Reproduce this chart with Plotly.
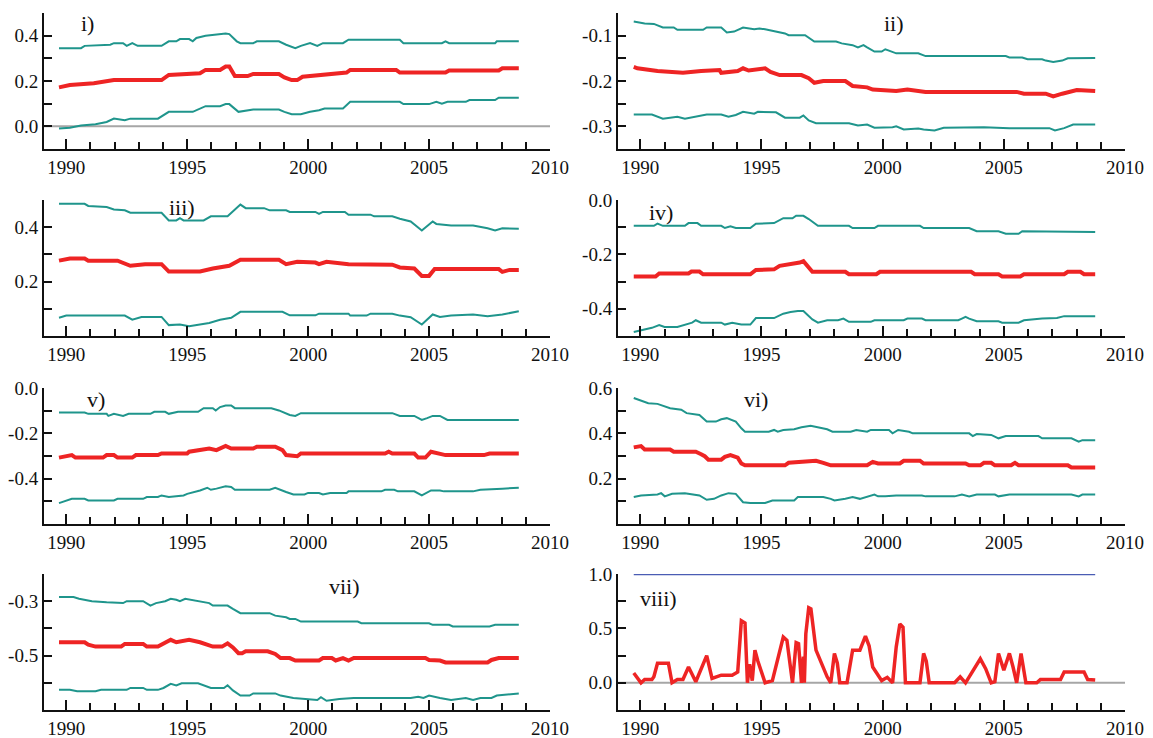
import plotly.graph_objects as go

# ---------------- data (year, value) ----------------
I_UP = [(1989.70, 0.345), (1990.61, 0.345), (1990.76, 0.355), (1991.82, 0.36), (1991.97, 0.367), (1992.35, 0.367),
        (1992.50, 0.355), (1992.73, 0.367), (1992.95, 0.355), (1993.94, 0.355), (1994.24, 0.375), (1994.55, 0.375),
        (1994.70, 0.385), (1995.08, 0.385), (1995.23, 0.375), (1995.38, 0.39), (1995.76, 0.40), (1996.21, 0.407),
        (1996.59, 0.41), (1996.74, 0.407), (1997.05, 0.375), (1997.20, 0.367), (1997.73, 0.367), (1997.88, 0.375),
        (1998.79, 0.375), (1999.09, 0.36), (1999.47, 0.345), (1999.70, 0.355), (2000.08, 0.367), (2000.38, 0.355),
        (2000.61, 0.367), (2001.44, 0.367), (2001.67, 0.382), (2003.79, 0.382), (2003.94, 0.367), (2005.53, 0.367),
        (2005.68, 0.375), (2005.83, 0.367), (2007.73, 0.367), (2007.80, 0.375), (2008.71, 0.375)]
I_MID = [(1989.70, 0.172), (1990.15, 0.182), (1991.14, 0.19), (1991.52, 0.197), (1991.97, 0.204), (1993.94, 0.204),
         (1994.24, 0.227), (1995.53, 0.234), (1995.76, 0.249), (1996.36, 0.249), (1996.59, 0.264), (1996.74, 0.264),
         (1996.97, 0.222), (1997.50, 0.222), (1997.73, 0.231), (1998.79, 0.231), (1999.02, 0.216), (1999.32, 0.204),
         (1999.55, 0.204), (1999.77, 0.219), (2000.68, 0.227), (2001.59, 0.237), (2001.74, 0.249), (2003.64, 0.249),
         (2003.79, 0.237), (2005.68, 0.237), (2005.83, 0.246), (2007.88, 0.246), (2008.03, 0.256), (2008.71, 0.256)]
I_LO = [(1989.70, -0.01), (1990.15, -0.006), (1990.61, 0.004), (1991.21, 0.009), (1991.67, 0.019), (1991.97, 0.034),
        (1992.42, 0.027), (1992.65, 0.034), (1993.79, 0.034), (1994.24, 0.064), (1995.23, 0.064), (1995.61, 0.083),
        (1995.76, 0.089), (1996.36, 0.089), (1996.59, 0.098), (1996.74, 0.098), (1997.12, 0.064), (1997.73, 0.074),
        (1998.79, 0.074), (1999.02, 0.064), (1999.32, 0.053), (1999.70, 0.053), (2000.08, 0.064), (2000.45, 0.071),
        (2000.68, 0.079), (2001.44, 0.079), (2001.74, 0.108), (2003.79, 0.108), (2003.94, 0.098), (2005.00, 0.098),
        (2005.30, 0.108), (2005.53, 0.10), (2005.76, 0.108), (2006.52, 0.108), (2006.67, 0.116), (2007.73, 0.116),
        (2007.88, 0.126), (2008.71, 0.126)]

II_UP = [(1989.73, -0.069), (1990.18, -0.073), (1990.56, -0.074), (1990.93, -0.082), (1991.38, -0.082), (1991.53, -0.087),
         (1992.59, -0.087), (1992.74, -0.082), (1993.34, -0.082), (1993.57, -0.093), (1993.87, -0.091), (1994.24, -0.082),
         (1994.70, -0.086), (1994.92, -0.084), (1995.15, -0.086), (1995.60, -0.091), (1995.97, -0.095), (1996.12, -0.099),
         (1996.80, -0.099), (1997.18, -0.113), (1998.08, -0.113), (1998.31, -0.117), (1998.76, -0.121), (1998.98, -0.126),
         (1999.21, -0.121), (1999.36, -0.126), (1999.66, -0.135), (1999.96, -0.135), (2000.11, -0.130), (2000.26, -0.133),
         (2000.56, -0.139), (2001.47, -0.139), (2001.77, -0.145), (2005.08, -0.145), (2005.23, -0.148), (2005.76, -0.148),
         (2005.98, -0.152), (2006.58, -0.152), (2006.73, -0.155), (2007.04, -0.158), (2007.41, -0.155), (2007.64, -0.150),
         (2008.77, -0.149)]
II_MID = [(1989.73, -0.169), (1989.88, -0.172), (1990.71, -0.178), (1991.76, -0.182), (1992.51, -0.178), (1993.27, -0.176),
          (1993.34, -0.182), (1994.02, -0.178), (1994.24, -0.172), (1994.47, -0.177), (1995.15, -0.172), (1995.37, -0.180),
          (1995.75, -0.187), (1996.65, -0.187), (1996.95, -0.194), (1997.18, -0.204), (1997.55, -0.200), (1998.46, -0.200),
          (1998.76, -0.211), (1999.36, -0.214), (1999.59, -0.219), (2000.56, -0.222), (2001.02, -0.219), (2001.47, -0.222),
          (2001.77, -0.224), (2005.53, -0.224), (2005.83, -0.228), (2006.73, -0.228), (2007.04, -0.234), (2007.41, -0.228),
          (2007.79, -0.224), (2008.01, -0.220), (2008.77, -0.222)]
II_LO = [(1989.73, -0.274), (1990.48, -0.274), (1990.93, -0.283), (1991.53, -0.279), (1991.84, -0.283), (1992.29, -0.278),
         (1992.74, -0.274), (1993.34, -0.274), (1993.64, -0.279), (1993.94, -0.275), (1994.24, -0.268), (1994.70, -0.272),
         (1994.85, -0.268), (1995.60, -0.269), (1995.97, -0.281), (1996.58, -0.281), (1996.73, -0.276), (1996.95, -0.287),
         (1997.25, -0.293), (1998.61, -0.293), (1998.98, -0.298), (1999.36, -0.296), (1999.66, -0.303), (2000.41, -0.302),
         (2000.56, -0.300), (2000.87, -0.307), (2001.47, -0.305), (2001.69, -0.307), (2002.14, -0.309), (2002.52, -0.303),
         (2004.18, -0.302), (2005.23, -0.304), (2006.88, -0.304), (2007.11, -0.309), (2007.49, -0.304), (2007.86, -0.296),
         (2008.77, -0.296)]

III_UP = [(1989.70, 0.486), (1990.76, 0.486), (1990.91, 0.478), (1991.67, 0.474), (1991.97, 0.465), (1992.42, 0.462),
          (1992.65, 0.453), (1993.94, 0.453), (1994.24, 0.425), (1994.55, 0.425), (1994.70, 0.433), (1994.85, 0.425),
          (1995.68, 0.425), (1995.98, 0.44), (1996.67, 0.44), (1997.20, 0.483), (1997.42, 0.47), (1998.18, 0.47),
          (1998.41, 0.462), (1999.09, 0.462), (1999.24, 0.456), (2000.30, 0.456), (2000.45, 0.449), (2000.61, 0.456),
          (2001.52, 0.456), (2001.67, 0.446), (2002.58, 0.446), (2002.73, 0.44), (2003.48, 0.44), (2003.79, 0.431),
          (2004.24, 0.421), (2004.70, 0.388), (2005.15, 0.421), (2005.30, 0.412), (2005.91, 0.406), (2006.82, 0.406),
          (2007.42, 0.396), (2007.73, 0.388), (2008.03, 0.396), (2008.71, 0.394)]
III_MID = [(1989.70, 0.277), (1990.15, 0.285), (1990.76, 0.285), (1990.91, 0.277), (1992.12, 0.277), (1992.35, 0.268),
           (1992.65, 0.258), (1993.26, 0.264), (1993.94, 0.264), (1994.24, 0.237), (1995.53, 0.237), (1996.06, 0.248),
           (1996.74, 0.258), (1997.20, 0.28), (1998.79, 0.28), (1999.09, 0.264), (1999.55, 0.273), (2000.30, 0.270),
           (2000.45, 0.264), (2000.76, 0.273), (2001.67, 0.264), (2003.48, 0.262), (2003.79, 0.252), (2004.39, 0.248),
           (2004.70, 0.221), (2005.00, 0.221), (2005.23, 0.246), (2007.88, 0.246), (2008.03, 0.236), (2008.33, 0.243),
           (2008.71, 0.243)]
III_LO = [(1989.70, 0.067), (1990.00, 0.075), (1992.42, 0.075), (1992.73, 0.06), (1993.11, 0.07), (1993.94, 0.07),
          (1994.24, 0.04), (1994.70, 0.042), (1995.08, 0.036), (1995.91, 0.048), (1996.36, 0.06), (1996.82, 0.067),
          (1997.20, 0.089), (1998.94, 0.089), (1999.24, 0.076), (2000.30, 0.076), (2000.45, 0.082), (2001.67, 0.082),
          (2001.74, 0.075), (2002.42, 0.075), (2002.58, 0.082), (2003.48, 0.082), (2003.79, 0.075), (2004.24, 0.069),
          (2004.70, 0.042), (2005.15, 0.079), (2005.45, 0.07), (2005.91, 0.075), (2006.82, 0.079), (2007.42, 0.073),
          (2008.03, 0.079), (2008.71, 0.091)]

IV_UP = [(1989.73, -0.095), (1990.56, -0.095), (1990.71, -0.087), (1990.93, -0.095), (1991.84, -0.095), (1991.99, -0.085),
         (1992.36, -0.085), (1992.51, -0.095), (1993.34, -0.095), (1993.49, -0.103), (1993.72, -0.097), (1993.94, -0.103),
         (1994.54, -0.103), (1994.77, -0.087), (1995.52, -0.085), (1995.90, -0.067), (1996.28, -0.067), (1996.43, -0.058),
         (1996.73, -0.058), (1996.95, -0.070), (1997.33, -0.095), (1998.61, -0.095), (1998.76, -0.103), (1999.66, -0.103),
         (1999.81, -0.095), (2001.54, -0.095), (2001.69, -0.103), (2003.57, -0.103), (2003.88, -0.115), (2004.78, -0.115),
         (2005.08, -0.124), (2005.61, -0.124), (2005.76, -0.115), (2008.77, -0.118)]
IV_MID = [(1989.73, -0.281), (1990.63, -0.281), (1990.78, -0.270), (1991.99, -0.270), (1992.11, -0.263), (1992.44, -0.263),
          (1992.59, -0.273), (1994.54, -0.273), (1994.77, -0.257), (1995.52, -0.255), (1995.75, -0.242), (1996.20, -0.236),
          (1996.58, -0.230), (1996.73, -0.225), (1997.10, -0.264), (1998.46, -0.264), (1998.61, -0.273), (1999.74, -0.273),
          (1999.89, -0.264), (2003.65, -0.264), (2003.80, -0.273), (2004.78, -0.273), (2004.93, -0.281), (2005.68, -0.281),
          (2005.83, -0.273), (2007.49, -0.273), (2007.64, -0.264), (2008.16, -0.264), (2008.31, -0.273), (2008.77, -0.273)]
IV_LO = [(1989.73, -0.485), (1990.03, -0.478), (1990.48, -0.470), (1990.78, -0.460), (1991.00, -0.467), (1991.53, -0.467),
         (1991.84, -0.458), (1992.14, -0.451), (1992.29, -0.442), (1992.51, -0.451), (1993.34, -0.451), (1993.49, -0.458),
         (1993.79, -0.451), (1994.17, -0.458), (1994.54, -0.458), (1994.77, -0.434), (1995.52, -0.434), (1995.90, -0.418),
         (1996.20, -0.412), (1996.50, -0.408), (1996.73, -0.408), (1997.10, -0.439), (1997.33, -0.451), (1997.71, -0.442),
         (1998.16, -0.442), (1998.38, -0.436), (1998.61, -0.448), (1999.51, -0.448), (1999.66, -0.442), (2000.87, -0.442),
         (2001.02, -0.436), (2001.62, -0.436), (2001.77, -0.442), (2003.12, -0.442), (2003.27, -0.436), (2003.42, -0.430),
         (2003.57, -0.436), (2003.88, -0.446), (2004.78, -0.446), (2004.93, -0.451), (2005.61, -0.451), (2005.83, -0.442),
         (2006.58, -0.436), (2007.19, -0.434), (2007.49, -0.427), (2008.77, -0.427)]

V_UP = [(1989.70, -0.108), (1990.76, -0.108), (1990.91, -0.114), (1991.67, -0.114), (1991.74, -0.123), (1991.97, -0.114),
        (1992.35, -0.123), (1992.58, -0.114), (1993.48, -0.114), (1993.64, -0.105), (1994.09, -0.105), (1994.24, -0.114),
        (1994.62, -0.105), (1995.45, -0.105), (1995.68, -0.089), (1996.06, -0.089), (1996.18, -0.099), (1996.36, -0.084),
        (1996.59, -0.077), (1996.82, -0.077), (1996.97, -0.089), (1998.48, -0.089), (1998.79, -0.099), (1999.24, -0.119),
        (1999.47, -0.123), (1999.70, -0.111), (2003.48, -0.111), (2003.79, -0.123), (2004.39, -0.123), (2004.70, -0.141),
        (2004.92, -0.133), (2005.15, -0.123), (2005.45, -0.123), (2005.76, -0.141), (2008.71, -0.141)]
V_MID = [(1989.70, -0.307), (1989.92, -0.301), (1990.23, -0.296), (1990.38, -0.307), (1991.52, -0.307), (1991.67, -0.296),
         (1991.97, -0.296), (1992.12, -0.307), (1992.73, -0.307), (1992.88, -0.296), (1993.79, -0.296), (1993.94, -0.289),
         (1995.00, -0.289), (1995.08, -0.281), (1995.68, -0.274), (1995.91, -0.267), (1996.21, -0.274), (1996.59, -0.256),
         (1996.82, -0.267), (1997.73, -0.267), (1997.88, -0.259), (1998.64, -0.259), (1998.94, -0.274), (1999.09, -0.296),
         (1999.55, -0.301), (1999.70, -0.289), (2003.18, -0.289), (2003.33, -0.281), (2003.48, -0.289), (2004.39, -0.289),
         (2004.55, -0.307), (2004.85, -0.307), (2005.08, -0.281), (2005.45, -0.289), (2005.68, -0.296), (2007.27, -0.296),
         (2007.50, -0.289), (2008.71, -0.289)]
V_LO = [(1989.70, -0.508), (1990.00, -0.496), (1990.23, -0.489), (1990.76, -0.489), (1990.91, -0.496), (1991.97, -0.496),
        (1992.12, -0.489), (1993.18, -0.489), (1993.33, -0.481), (1993.79, -0.481), (1993.94, -0.474), (1994.24, -0.481),
        (1994.85, -0.474), (1995.00, -0.467), (1995.53, -0.452), (1995.83, -0.440), (1995.98, -0.449), (1996.21, -0.444),
        (1996.59, -0.434), (1996.82, -0.437), (1996.97, -0.449), (1998.41, -0.449), (1998.64, -0.440), (1999.09, -0.459),
        (1999.39, -0.470), (1999.85, -0.470), (2000.00, -0.463), (2000.45, -0.463), (2000.61, -0.470), (2000.91, -0.463),
        (2001.59, -0.463), (2001.67, -0.456), (2003.03, -0.456), (2003.18, -0.449), (2003.56, -0.449), (2003.71, -0.456),
        (2004.39, -0.456), (2004.70, -0.474), (2005.08, -0.452), (2005.45, -0.452), (2005.61, -0.456), (2006.82, -0.456),
        (2007.12, -0.449), (2008.03, -0.444), (2008.71, -0.440)]

VI_UP = [(1989.73, 0.556), (1990.03, 0.545), (1990.33, 0.533), (1990.71, 0.530), (1990.93, 0.521), (1991.23, 0.511),
         (1991.69, 0.504), (1991.91, 0.489), (1992.44, 0.481), (1992.74, 0.452), (1993.12, 0.452), (1993.34, 0.462),
         (1993.57, 0.467), (1993.94, 0.452), (1994.17, 0.422), (1994.32, 0.407), (1995.30, 0.407), (1995.52, 0.415),
         (1995.67, 0.407), (1995.90, 0.415), (1996.35, 0.418), (1996.65, 0.427), (1997.03, 0.433), (1997.33, 0.427),
         (1997.71, 0.418), (1997.93, 0.407), (1998.68, 0.407), (1998.91, 0.415), (1999.36, 0.407), (1999.51, 0.415),
         (2000.26, 0.415), (2000.41, 0.400), (2000.64, 0.415), (2001.09, 0.407), (2001.24, 0.400), (2003.57, 0.400),
         (2003.72, 0.388), (2003.88, 0.397), (2004.48, 0.393), (2004.78, 0.378), (2005.08, 0.388), (2006.43, 0.388),
         (2006.58, 0.378), (2007.79, 0.378), (2008.09, 0.363), (2008.24, 0.370), (2008.77, 0.370)]
VI_MID = [(1989.73, 0.338), (1990.03, 0.344), (1990.18, 0.329), (1991.23, 0.329), (1991.38, 0.319), (1992.29, 0.319),
          (1992.51, 0.308), (1992.66, 0.299), (1992.81, 0.284), (1993.34, 0.284), (1993.49, 0.296), (1993.72, 0.304),
          (1994.02, 0.293), (1994.17, 0.267), (1994.32, 0.259), (1995.97, 0.259), (1996.12, 0.270), (1996.95, 0.279),
          (1997.25, 0.279), (1997.55, 0.270), (1997.86, 0.259), (1999.36, 0.259), (1999.59, 0.274), (1999.81, 0.267),
          (2000.71, 0.267), (2000.87, 0.279), (2001.54, 0.279), (2001.69, 0.267), (2003.42, 0.267), (2003.57, 0.259),
          (2004.03, 0.259), (2004.18, 0.270), (2004.48, 0.270), (2004.63, 0.259), (2005.30, 0.259), (2005.46, 0.270),
          (2005.61, 0.259), (2007.64, 0.259), (2007.79, 0.249), (2008.77, 0.249)]
VI_LO = [(1989.73, 0.119), (1990.03, 0.126), (1990.71, 0.130), (1990.86, 0.136), (1991.01, 0.122), (1991.31, 0.133),
         (1991.84, 0.136), (1992.44, 0.126), (1992.74, 0.107), (1993.04, 0.111), (1993.34, 0.126), (1993.64, 0.136),
         (1993.94, 0.133), (1994.24, 0.096), (1994.54, 0.093), (1995.15, 0.093), (1995.45, 0.104), (1996.35, 0.104),
         (1996.50, 0.119), (1997.55, 0.119), (1997.86, 0.111), (1998.01, 0.104), (1998.46, 0.111), (1998.76, 0.119),
         (1999.06, 0.111), (1999.36, 0.122), (1999.66, 0.130), (1999.81, 0.122), (2000.11, 0.122), (2000.56, 0.126),
         (2001.62, 0.126), (2001.77, 0.122), (2002.97, 0.122), (2003.27, 0.130), (2003.57, 0.122), (2003.88, 0.130),
         (2004.63, 0.130), (2004.78, 0.122), (2005.23, 0.130), (2007.79, 0.130), (2008.09, 0.122), (2008.24, 0.130),
         (2008.77, 0.130)]

VII_UP = [(1989.70, -0.285), (1990.30, -0.285), (1990.53, -0.291), (1991.06, -0.300), (1991.67, -0.304), (1992.20, -0.307),
          (1992.35, -0.307), (1992.50, -0.300), (1993.18, -0.300), (1993.48, -0.316), (1993.71, -0.307), (1994.09, -0.300),
          (1994.32, -0.291), (1994.55, -0.295), (1994.70, -0.300), (1994.92, -0.291), (1995.45, -0.300), (1995.91, -0.307),
          (1996.06, -0.316), (1996.67, -0.316), (1996.89, -0.328), (1997.20, -0.344), (1998.41, -0.344), (1998.64, -0.353),
          (1999.09, -0.359), (1999.24, -0.365), (1999.47, -0.365), (1999.70, -0.375), (2002.05, -0.375), (2002.20, -0.381),
          (2005.00, -0.381), (2005.15, -0.387), (2005.83, -0.387), (2005.98, -0.393), (2007.50, -0.393), (2007.73, -0.387),
          (2008.71, -0.387)]
VII_MID = [(1989.70, -0.451), (1990.76, -0.451), (1990.91, -0.460), (1991.21, -0.467), (1992.27, -0.467), (1992.42, -0.457),
           (1993.18, -0.457), (1993.33, -0.467), (1993.79, -0.467), (1994.09, -0.451), (1994.32, -0.442), (1994.55, -0.451),
           (1995.08, -0.442), (1995.53, -0.451), (1995.83, -0.460), (1996.06, -0.467), (1996.44, -0.467), (1996.67, -0.455),
           (1996.89, -0.470), (1997.12, -0.491), (1997.27, -0.491), (1997.42, -0.484), (1998.33, -0.484), (1998.64, -0.494),
           (1998.86, -0.509), (1999.24, -0.509), (1999.47, -0.518), (2000.45, -0.518), (2000.61, -0.509), (2000.98, -0.509),
           (2001.14, -0.518), (2001.44, -0.509), (2001.67, -0.518), (2001.89, -0.509), (2004.85, -0.509), (2005.00, -0.516),
           (2005.45, -0.518), (2005.68, -0.525), (2007.42, -0.525), (2007.58, -0.516), (2007.88, -0.509), (2008.71, -0.509)]
VII_LO = [(1989.70, -0.626), (1990.15, -0.626), (1990.45, -0.631), (1991.21, -0.631), (1991.44, -0.626), (1992.50, -0.626),
          (1992.65, -0.619), (1993.18, -0.619), (1993.33, -0.626), (1993.79, -0.626), (1994.02, -0.619), (1994.32, -0.604),
          (1994.55, -0.610), (1994.77, -0.602), (1995.45, -0.602), (1995.98, -0.619), (1996.52, -0.619), (1996.67, -0.609),
          (1996.89, -0.628), (1997.20, -0.647), (1997.58, -0.647), (1997.73, -0.639), (1998.64, -0.639), (1998.86, -0.647),
          (1999.39, -0.656), (2000.15, -0.663), (2000.38, -0.663), (2000.53, -0.653), (2000.76, -0.666), (2001.29, -0.660),
          (2001.89, -0.656), (2004.24, -0.656), (2004.55, -0.651), (2004.77, -0.656), (2005.00, -0.647), (2005.45, -0.656),
          (2005.91, -0.663), (2006.52, -0.656), (2006.82, -0.663), (2007.12, -0.656), (2007.58, -0.656), (2007.80, -0.647),
          (2008.71, -0.639)]

VIII_MID = [(1989.73, 0.09), (1989.88, 0.04), (1990.03, 0.0), (1990.18, 0.03), (1990.48, 0.03), (1990.56, 0.055),
            (1990.71, 0.18), (1991.16, 0.18), (1991.31, 0.0), (1991.53, 0.03), (1991.76, 0.03), (1991.99, 0.145),
            (1992.29, 0.01), (1992.74, 0.25), (1992.96, 0.04), (1993.34, 0.07), (1993.79, 0.07), (1994.02, 0.10),
            (1994.17, 0.57), (1994.32, 0.55), (1994.42, 0.0), (1994.51, 0.17), (1994.62, 0.02), (1994.73, 0.30),
            (1994.85, 0.20), (1995.15, 0.0), (1995.45, 0.02), (1995.90, 0.42), (1996.05, 0.39), (1996.28, 0.0),
            (1996.43, 0.37), (1996.53, 0.36), (1996.65, 0.0), (1996.73, 0.24), (1996.77, 0.0), (1996.83, 0.45),
            (1996.95, 0.69), (1997.04, 0.68), (1997.13, 0.54), (1997.25, 0.30), (1997.71, 0.055), (1997.86, 0.0),
            (1998.01, 0.27), (1998.13, 0.18), (1998.23, 0.0), (1998.53, 0.0), (1998.76, 0.30), (1999.06, 0.30),
            (1999.29, 0.43), (1999.44, 0.34), (1999.59, 0.145), (1999.81, 0.07), (1999.96, 0.02), (2000.19, 0.05),
            (2000.41, 0.0), (2000.56, 0.33), (2000.71, 0.54), (2000.84, 0.51), (2000.94, 0.0), (2001.54, 0.0),
            (2001.69, 0.27), (2001.80, 0.20), (2001.92, 0.0), (2002.97, 0.0), (2003.20, 0.055), (2003.42, 0.0),
            (2003.72, 0.115), (2004.03, 0.22), (2004.25, 0.13), (2004.48, 0.0), (2004.63, 0.01), (2004.78, 0.27),
            (2005.00, 0.115), (2005.23, 0.27), (2005.38, 0.145), (2005.53, 0.0), (2005.71, 0.27), (2005.91, 0.0),
            (2006.36, 0.0), (2006.51, 0.03), (2007.34, 0.03), (2007.49, 0.10), (2008.31, 0.10), (2008.46, 0.03),
            (2008.77, 0.025)]
VIII_REF = [(1989.73, 1.0), (2008.77, 1.0)]

PANEL_LABELS = ["i)", "ii)", "iii)", "iv)", "v)", "vi)", "vii)", "viii)"]
X_TICKS = [1990, 1995, 2000, 2005, 2010]
X_MINOR = list(range(1990, 2011))

Y_RANGES = [(-0.1, 0.5), (-0.35, -0.05), (0.0, 0.5), (-0.5, 0.0), (-0.6, 0.0), (0.0, 0.6), (-0.7, -0.2), (-0.25, 1.0)]
Y_TICKS = [[0.0, 0.2, 0.4], [-0.3, -0.2, -0.1], [0.2, 0.4], [-0.4, -0.2, 0.0], [-0.4, -0.2, 0.0],
           [0.2, 0.4, 0.6], [-0.5, -0.3], [0.0, 0.5, 1.0]]
Y_TICKTEXT = [["0.0", "0.2", "0.4"], ["-0.3", "-0.2", "-0.1"], ["0.2", "0.4"], ["-0.4", "-0.2", "0.0"],
              ["-0.4", "-0.2", "0.0"], ["0.2", "0.4", "0.6"], ["-0.5", "-0.3"], ["0.0", "0.5", "1.0"]]
Y_MINOR = [[-0.1, 0.1, 0.3, 0.5], [-0.35, -0.25, -0.15, -0.05], [0.0, 0.1, 0.3, 0.5], [-0.5, -0.3, -0.1],
           [-0.6, -0.5, -0.3, -0.1], [0.0, 0.1, 0.3, 0.5], [-0.7, -0.6, -0.4, -0.2], [-0.25, 0.25, 0.75]]

PANELS = [
    [I_UP, I_MID, I_LO], [II_UP, II_MID, II_LO], [III_UP, III_MID, III_LO], [IV_UP, IV_MID, IV_LO],
    [V_UP, V_MID, V_LO], [VI_UP, VI_MID, VI_LO], [VII_UP, VII_MID, VII_LO], [VIII_MID],
]

# ---------------- styling / layout ----------------
W, H = 1153, 738
TEAL = "#1f958c"
RED = "#ee2424"
BLUE = "#4a5db4"
GREY = "#a6a6a6"
FONT = "Liberation Serif, Times New Roman, DejaVu Serif, serif"

COL_PX = [(44, 550), (618, 1125)]
ROW_PX = [(13, 149), (200, 336), (388, 524), (574, 710)]
LABEL_PX = [(87, 23), (894, 24), (182, 207), (661, 212), (96, 399), (756, 400), (344, 586), (658, 598)]

fig = go.Figure()
layout = dict(width=W, height=H, margin=dict(l=0, r=0, t=0, b=0), paper_bgcolor="white",
              plot_bgcolor="white", showlegend=False, annotations=[], shapes=[])

for k in range(8):
    r, c = divmod(k, 2)
    xa = "xaxis" if k == 0 else f"xaxis{k+1}"
    ya = "yaxis" if k == 0 else f"yaxis{k+1}"
    xr = "x" if k == 0 else f"x{k+1}"
    yr = "y" if k == 0 else f"y{k+1}"
    x0, x1 = COL_PX[c]
    t, b = ROW_PX[r]
    layout[xa] = dict(
        domain=[x0 / W, x1 / W], anchor=yr, range=[1989.08, 2010.0],
        showgrid=False, zeroline=False, showline=True, linecolor="#111", linewidth=2,
        ticks="inside", ticklen=10, tickwidth=2, tickcolor="#111",
        tickmode="array", tickvals=X_TICKS, ticktext=[str(v) for v in X_TICKS],
        minor=dict(ticks="inside", ticklen=7, tickwidth=2, tickcolor="#111", tickmode="array", tickvals=X_MINOR),
        tickfont=dict(family=FONT, size=19, color="#111"), automargin=False, fixedrange=True,
    )
    layout[ya] = dict(
        domain=[1 - b / H, 1 - t / H], anchor=xr, range=list(Y_RANGES[k]),
        showgrid=False, zeroline=False, showline=True, linecolor="#111", linewidth=2,
        ticks="inside", ticklen=8, tickwidth=2, tickcolor="#111",
        tickmode="array", tickvals=Y_TICKS[k], ticktext=Y_TICKTEXT[k],
        minor=dict(ticks="inside", ticklen=8, tickwidth=2, tickcolor="#111", tickmode="array", tickvals=Y_MINOR[k]),
        tickfont=dict(family=FONT, size=19, color="#111"), automargin=False, fixedrange=True,
    )
    if k in (0, 7):
        layout["shapes"].append(dict(type="line", xref=f"{xr} domain", yref=yr, x0=0, x1=1, y0=0, y1=0,
                                     line=dict(color=GREY, width=2), layer="below"))
    series = PANELS[k]
    if k == 7:
        fig.add_trace(go.Scatter(x=[p[0] for p in VIII_REF], y=[p[1] for p in VIII_REF], mode="lines",
                                 line=dict(color=BLUE, width=2.5), xaxis=xr, yaxis=yr, hoverinfo="skip"))
        fig.add_trace(go.Scatter(x=[p[0] for p in series[0]], y=[p[1] for p in series[0]], mode="lines",
                                 line=dict(color=RED, width=3.5), xaxis=xr, yaxis=yr, hoverinfo="skip"))
    else:
        for s, (col, wid) in zip(series, [(TEAL, 2), (RED, 4), (TEAL, 2)]):
            fig.add_trace(go.Scatter(x=[p[0] for p in s], y=[p[1] for p in s], mode="lines",
                                     line=dict(color=col, width=wid), xaxis=xr, yaxis=yr, hoverinfo="skip"))
    lx, ly = LABEL_PX[k]
    layout["annotations"].append(dict(text=PANEL_LABELS[k], x=lx / W, y=1 - ly / H, xref="paper", yref="paper",
                                      xanchor="center", yanchor="middle", showarrow=False,
                                      font=dict(family=FONT, size=22, color="#111")))

fig.update_layout(**layout)
fig.write_html("out.html")
